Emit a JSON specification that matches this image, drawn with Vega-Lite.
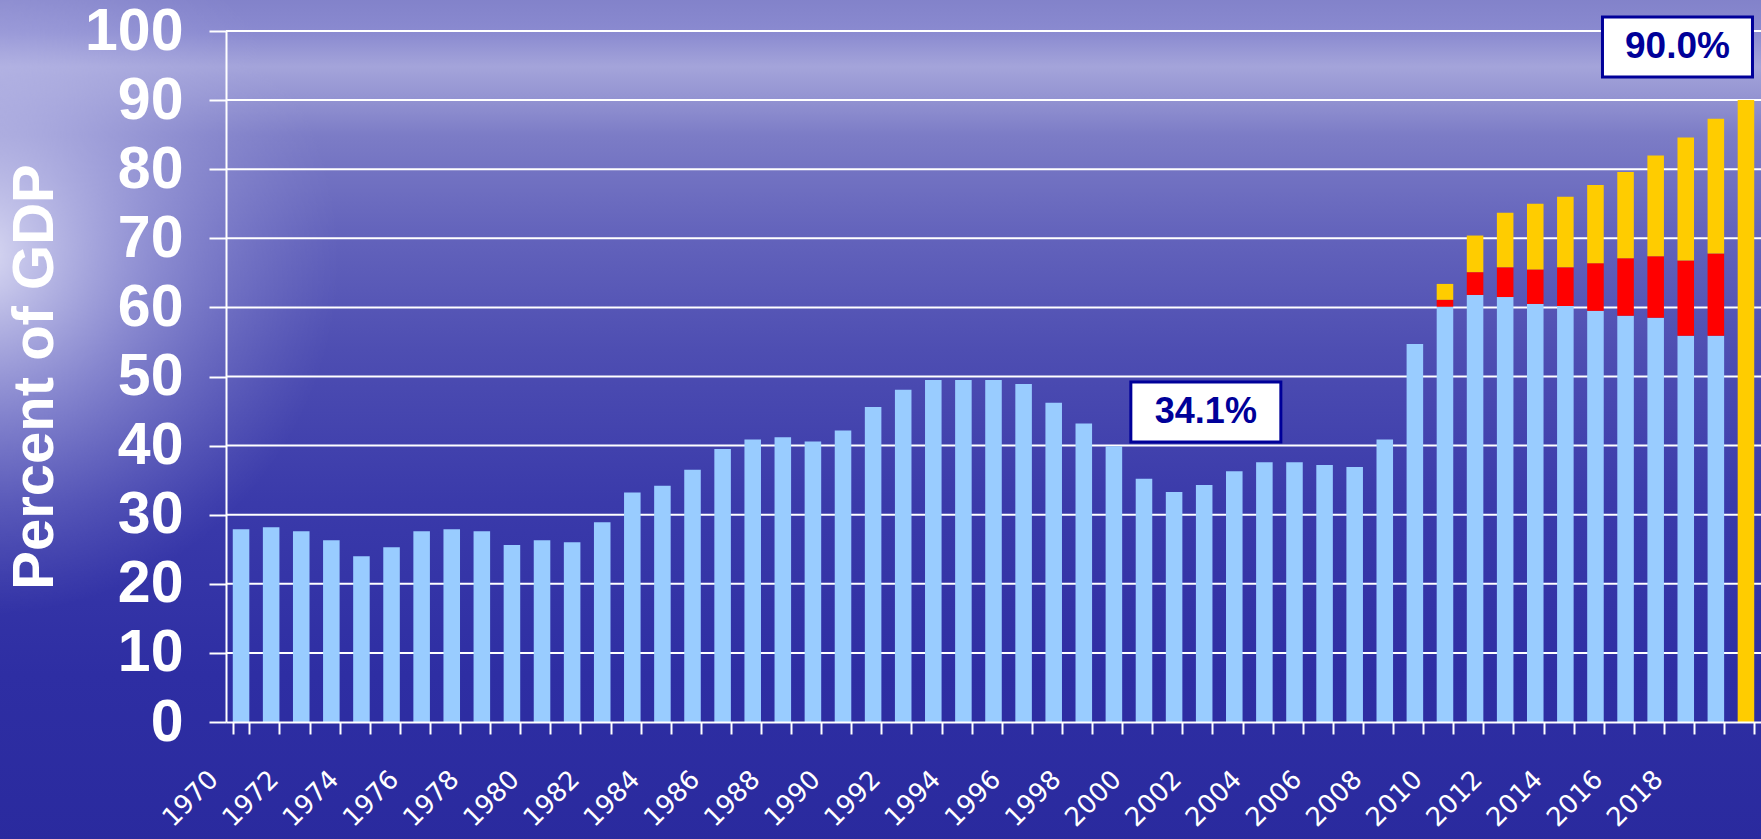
{
  "$schema": "https://vega.github.io/schema/vega-lite/v6.json",
  "width": 1535,
  "height": 691,
  "autosize": {"type": "none"},
  "padding": {"left": 226, "top": 31, "right": 0, "bottom": 117},
  "background": "#3232a6",
  "config": {"view": {"stroke": null}},
  "datasets": {
    "debt": [
      {"year": 1970, "s": "Baseline", "v": 27.9},
      {"year": 1971, "s": "Baseline", "v": 28.2},
      {"year": 1972, "s": "Baseline", "v": 27.6},
      {"year": 1973, "s": "Baseline", "v": 26.3},
      {"year": 1974, "s": "Baseline", "v": 24.0},
      {"year": 1975, "s": "Baseline", "v": 25.3},
      {"year": 1976, "s": "Baseline", "v": 27.6},
      {"year": 1977, "s": "Baseline", "v": 27.9},
      {"year": 1978, "s": "Baseline", "v": 27.6},
      {"year": 1979, "s": "Baseline", "v": 25.6},
      {"year": 1980, "s": "Baseline", "v": 26.3},
      {"year": 1981, "s": "Baseline", "v": 26.0},
      {"year": 1982, "s": "Baseline", "v": 28.9},
      {"year": 1983, "s": "Baseline", "v": 33.2},
      {"year": 1984, "s": "Baseline", "v": 34.2},
      {"year": 1985, "s": "Baseline", "v": 36.5},
      {"year": 1986, "s": "Baseline", "v": 39.5},
      {"year": 1987, "s": "Baseline", "v": 40.9},
      {"year": 1988, "s": "Baseline", "v": 41.2},
      {"year": 1989, "s": "Baseline", "v": 40.6},
      {"year": 1990, "s": "Baseline", "v": 42.2},
      {"year": 1991, "s": "Baseline", "v": 45.6},
      {"year": 1992, "s": "Baseline", "v": 48.1},
      {"year": 1993, "s": "Baseline", "v": 49.5},
      {"year": 1994, "s": "Baseline", "v": 49.5},
      {"year": 1995, "s": "Baseline", "v": 49.5},
      {"year": 1996, "s": "Baseline", "v": 48.9},
      {"year": 1997, "s": "Baseline", "v": 46.2},
      {"year": 1998, "s": "Baseline", "v": 43.2},
      {"year": 1999, "s": "Baseline", "v": 39.9},
      {"year": 2000, "s": "Baseline", "v": 35.2},
      {"year": 2001, "s": "Baseline", "v": 33.3},
      {"year": 2002, "s": "Baseline", "v": 34.3},
      {"year": 2003, "s": "Baseline", "v": 36.3},
      {"year": 2004, "s": "Baseline", "v": 37.6},
      {"year": 2005, "s": "Baseline", "v": 37.6},
      {"year": 2006, "s": "Baseline", "v": 37.2},
      {"year": 2007, "s": "Baseline", "v": 36.9},
      {"year": 2008, "s": "Baseline", "v": 40.9},
      {"year": 2009, "s": "Baseline", "v": 54.7},
      {"year": 2010, "s": "Baseline", "v": 60.1},
      {"year": 2010, "s": "Policy", "v": 1.0},
      {"year": 2010, "s": "Proposal", "v": 2.3},
      {"year": 2011, "s": "Baseline", "v": 61.8},
      {"year": 2011, "s": "Policy", "v": 3.3},
      {"year": 2011, "s": "Proposal", "v": 5.3},
      {"year": 2012, "s": "Baseline", "v": 61.5},
      {"year": 2012, "s": "Policy", "v": 4.3},
      {"year": 2012, "s": "Proposal", "v": 7.9},
      {"year": 2013, "s": "Baseline", "v": 60.5},
      {"year": 2013, "s": "Policy", "v": 5.0},
      {"year": 2013, "s": "Proposal", "v": 9.5},
      {"year": 2014, "s": "Baseline", "v": 60.2},
      {"year": 2014, "s": "Policy", "v": 5.6},
      {"year": 2014, "s": "Proposal", "v": 10.2},
      {"year": 2015, "s": "Baseline", "v": 59.5},
      {"year": 2015, "s": "Policy", "v": 6.9},
      {"year": 2015, "s": "Proposal", "v": 11.3},
      {"year": 2016, "s": "Baseline", "v": 58.8},
      {"year": 2016, "s": "Policy", "v": 8.3},
      {"year": 2016, "s": "Proposal", "v": 12.5},
      {"year": 2017, "s": "Baseline", "v": 58.5},
      {"year": 2017, "s": "Policy", "v": 8.9},
      {"year": 2017, "s": "Proposal", "v": 14.6},
      {"year": 2018, "s": "Baseline", "v": 55.9},
      {"year": 2018, "s": "Policy", "v": 10.9},
      {"year": 2018, "s": "Proposal", "v": 17.8},
      {"year": 2019, "s": "Baseline", "v": 55.9},
      {"year": 2019, "s": "Policy", "v": 11.9},
      {"year": 2019, "s": "Proposal", "v": 19.5},
      {"year": 2020, "s": "Proposal", "v": 90.0}
    ],
    "grid": [
      {"g": 10}, {"g": 20}, {"g": 30}, {"g": 40}, {"g": 50},
      {"g": 60}, {"g": 70}, {"g": 80}, {"g": 90}, {"g": 100}
    ]
  },
  "resolve": {"scale": {"x": "independent", "y": "independent"}},
  "layer": [
    {
      "data": {"values": [{}]},
      "mark": {
        "type": "rect",
        "fill": {
          "gradient": "linear", "x1": 0, "y1": 0, "x2": 0, "y2": 1,
          "stops": [
            {"offset": 0, "color": "#8080c8"},
            {"offset": 0.05, "color": "#8a8ad0"},
            {"offset": 0.09, "color": "#a4a4da"},
            {"offset": 0.125, "color": "#9494d2"},
            {"offset": 0.17, "color": "#7c7cc6"},
            {"offset": 0.28, "color": "#6464bc"},
            {"offset": 0.42, "color": "#4e4eb2"},
            {"offset": 0.6, "color": "#3a3aaa"},
            {"offset": 0.8, "color": "#2e2ea3"},
            {"offset": 1, "color": "#2a2a9e"}
          ]
        }
      },
      "encoding": {
        "x": {"datum": -0.16, "type": "quantitative", "scale": {"domain": [0, 1]}, "axis": null},
        "x2": {"datum": 1.01},
        "y": {"datum": -0.18, "type": "quantitative", "scale": {"domain": [0, 1]}, "axis": null},
        "y2": {"datum": 1.06}
      }
    },
    {
      "data": {"values": [{}]},
      "mark": {
        "type": "rect",
        "fill": {
          "gradient": "radial", "x1": 0.0, "y1": 0.41, "r1": 0, "x2": 0.0, "y2": 0.41, "r2": 0.2,
          "stops": [
            {"offset": 0, "color": "rgba(240,240,253,0.85)"},
            {"offset": 0.45, "color": "rgba(205,205,242,0.45)"},
            {"offset": 1, "color": "rgba(160,160,220,0)"}
          ]
        }
      },
      "encoding": {
        "x": {"datum": -0.16, "type": "quantitative", "scale": {"domain": [0, 1]}, "axis": null},
        "x2": {"datum": 1.01},
        "y": {"datum": -0.18, "type": "quantitative", "scale": {"domain": [0, 1]}, "axis": null},
        "y2": {"datum": 1.06}
      }
    },
    {
      "layer": [
        {
          "data": {"name": "grid"},
          "mark": {"type": "rule", "color": "white", "strokeWidth": 2},
          "encoding": {
            "y": {"field": "g", "type": "quantitative", "title": "Percent of GDP"}
          }
        },
        {
          "data": {"name": "debt"},
          "mark": {"type": "bar"},
          "encoding": {
            "x": {
              "field": "year", "type": "ordinal", "title": null,
              "scale": {"paddingInner": 0.45, "paddingOuter": 0.225},
              "axis": {
                "zindex": 1,
                "labelAngle": -45, "labelAlign": "right", "labelBaseline": "middle",
                "labelFont": "DejaVu Sans", "labelFontSize": 26, "labelColor": "white",
                "labelOffset": -27.5, "labelPadding": 41, "labelOverlap": false, "labelBound": false,
                "tickColor": "white", "tickSize": 12, "tickWidth": 2, "tickBand": "extent",
                "domainColor": "white", "domainWidth": 2, "grid": false,
                "labelExpr": "datum.value % 2 == 0 && datum.value < 2020 ? datum.label : ''"
              }
            },
            "y": {
              "field": "v", "type": "quantitative", "stack": "zero",
              "scale": {"domain": [0, 100]},
              "title": "Percent of GDP",
              "axis": {
                "zindex": 1,
                "values": [0, 10, 20, 30, 40, 50, 60, 70, 80, 90, 100],
                "titleFont": "Liberation Sans", "titleFontSize": 58, "titleFontWeight": "bold",
                "titleColor": "white", "titlePadding": 20,
                "labelFont": "Liberation Sans", "labelFontSize": 59, "labelFontWeight": "bold",
                "labelColor": "white", "labelPadding": 26, "labelOverlap": false,
                "tickSize": 17, "tickColor": "white", "tickWidth": 2,
                "domainColor": "white", "domainWidth": 2, "grid": false
              }
            },
            "color": {
              "field": "s", "type": "nominal", "legend": null,
              "scale": {"domain": ["Baseline", "Policy", "Proposal"], "range": ["#99ccff", "#ff0000", "#ffcc00"]}
            },
            "order": {"field": "s", "sort": "ascending"}
          }
        },
        {
          "data": {"values": [{"year": 2002, "y": 44.86, "label": "34.1%"}]},
          "encoding": {
            "x": {"field": "year", "type": "ordinal", "title": null, "bandPosition": 0.6},
            "y": {"field": "y", "type": "quantitative", "title": "Percent of GDP"}
          },
          "layer": [
            {"mark": {"type": "point", "shape": "M-1,-0.4L1,-0.4L1,0.4L-1,0.4Z", "size": 22500, "filled": true, "fill": "white", "stroke": "#000099", "strokeWidth": 3, "opacity": 1}},
            {"mark": {"type": "text", "font": "Liberation Sans", "fontSize": 36, "fontWeight": "bold", "color": "#000099", "align": "center", "baseline": "middle"}, "encoding": {"text": {"field": "label"}}}
          ]
        },
        {
          "data": {"values": [{"year": 2018, "y": 97.7, "label": "90.0%"}]},
          "encoding": {
            "x": {"field": "year", "type": "ordinal", "title": null, "bandPosition": 0},
            "y": {"field": "y", "type": "quantitative", "title": "Percent of GDP"}
          },
          "layer": [
            {"mark": {"type": "point", "shape": "M-1,-0.4L1,-0.4L1,0.4L-1,0.4Z", "size": 22500, "filled": true, "fill": "white", "stroke": "#000099", "strokeWidth": 3, "opacity": 1}},
            {"mark": {"type": "text", "font": "Liberation Sans", "fontSize": 37, "fontWeight": "bold", "color": "#000099", "align": "center", "baseline": "middle"}, "encoding": {"text": {"field": "label"}}}
          ]
        }
      ]
    }
  ]
}
